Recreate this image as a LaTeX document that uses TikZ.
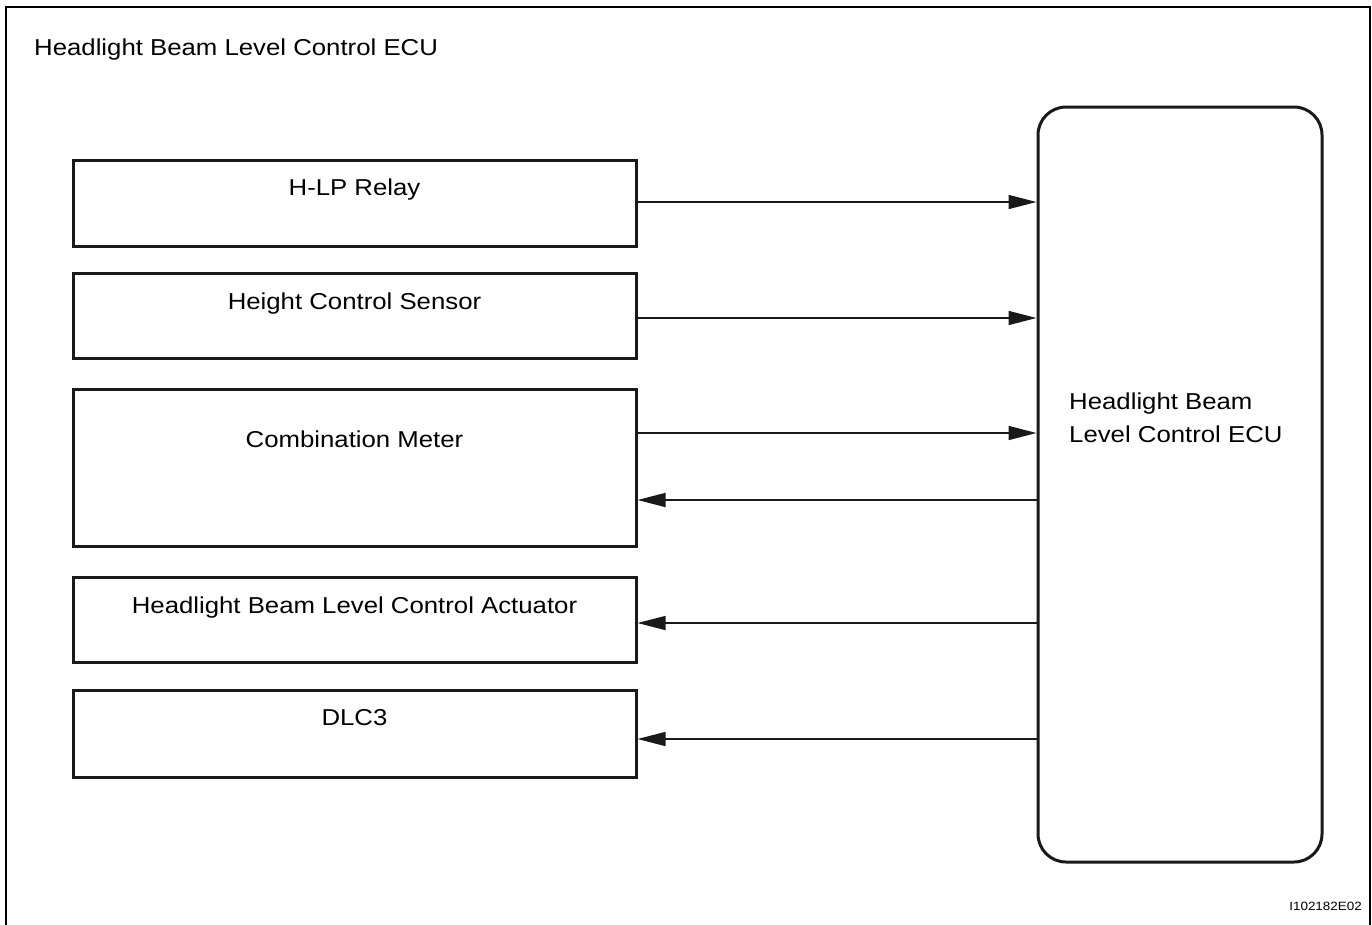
\documentclass[tikz,border=0pt]{standalone}
\usepackage{fontspec}
\setmainfont{Liberation Sans}[FakeStretch=1.12]
\usetikzlibrary{arrows.meta}
\begin{document}
\begin{tikzpicture}[x=1pt,y=-1pt,
  lbl/.style={inner sep=0pt,anchor=base,font=\fontsize{23}{29}\selectfont},
  blockbox/.style={draw=black!90,line width=3pt,rectangle,inner sep=0pt},
  conn/.style={line width=1.5pt,draw=black!90,-{Triangle[length=28pt,width=14pt]}},
]
\useasboundingbox (0,0) rectangle (1372,924);
\draw[line width=2.5pt] (6,930) -- (6,7) -- (1370,7) -- (1370,930);

\node[lbl,anchor=base west] (title) at (34,55) {Headlight Beam Level Control ECU};

% left boxes
\node[blockbox,minimum width=563pt,minimum height=86pt] (b1) at (354.5,203) {};
\node[blockbox,minimum width=563pt,minimum height=85pt] (b2) at (354.5,315.5) {};
\node[blockbox,minimum width=563pt,minimum height=157pt] (b3) at (354.5,467.5) {};
\node[blockbox,minimum width=563pt,minimum height=85pt] (b4) at (354.5,619.5) {};
\node[blockbox,minimum width=563pt,minimum height=87pt] (b5) at (354.5,733.5) {};

\node[lbl] (t1) at (354.5,195) {H-LP Relay};
\node[lbl] (t2) at (354.5,309) {Height Control Sensor};
\node[lbl] (t3) at (354.5,447) {Combination Meter};
\node[lbl] (t4) at (354.5,613) {Headlight Beam Level Control Actuator};
\node[lbl] (t5) at (354.5,725) {DLC3};

% ECU
\node[draw=black!90,line width=3pt,rounded corners=28pt,minimum width=284pt,minimum height=755pt,inner sep=0pt] (ecu) at (1180,484.5) {};
\node[lbl,anchor=base west,align=left,font=\fontsize{23}{33}\selectfont] (ecut) at (1069,442) {Headlight Beam\\Level Control ECU};

% connectors
\draw[conn] (b1.east |- 0,202) -- (ecu.west |- 0,202);
\draw[conn] (b2.east |- 0,318) -- (ecu.west |- 0,318);
\draw[conn] (b3.east |- 0,433) -- (ecu.west |- 0,433);
\draw[conn] (ecu.west |- 0,500) -- (b3.east |- 0,500);
\draw[conn] (ecu.west |- 0,623) -- (b4.east |- 0,623);
\draw[conn] (ecu.west |- 0,739) -- (b5.east |- 0,739);

\node[inner sep=0pt,anchor=base east,font=\fontsize{12}{14}\selectfont] (code) at (1362,910) {I102182E02};
\end{tikzpicture}
\end{document}
